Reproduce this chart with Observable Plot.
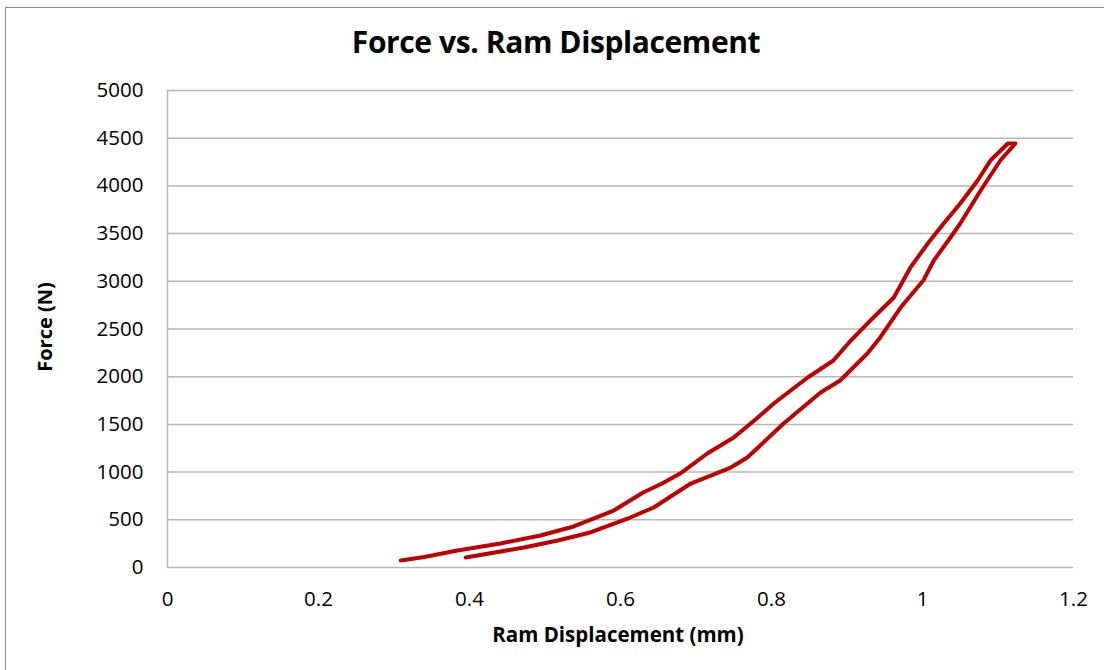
<!DOCTYPE html>
<html>
<head>
<meta charset="utf-8">
<script src="https://cdn.jsdelivr.net/npm/d3@7"></script>
<script src="https://cdn.jsdelivr.net/npm/@observablehq/plot@0.6"></script>
<style>
  html, body { margin: 0; padding: 0; background: #fff; }
  #wrap { position: relative; width: 1104px; height: 670px; overflow: hidden; font-family: "Open Sans", sans-serif; }
  #frame { position: absolute; left: 5px; top: 7px; width: 1200px; height: 800px; border-top: 1.5px solid #8c8c8c; border-left: 1.5px solid #8c8c8c; }
  #title { position: absolute; left: 0; width: 1112px; top: 21px; text-align: center; font-weight: bold; font-size: 30px; color: #000; letter-spacing: -0.4px; }
  #xlabel { position: absolute; left: 0; width: 1236px; top: 620px; text-align: center; font-weight: bold; font-size: 20.5px; color: #000; }
  #ylabel { position: absolute; left: 44px; top: 327px; transform: translate(-50%, -50%) rotate(-90deg); font-weight: bold; font-size: 20px; color: #000; white-space: nowrap; }
  #chart { position: absolute; left: 0; top: 0; }
</style>
</head>
<body>
<div id="wrap">
  <div id="frame"></div>
  <div id="chart"></div>
  <div id="title">Force vs. Ram Displacement</div>
  <div id="xlabel">Ram Displacement (mm)</div>
  <div id="ylabel">Force (N)</div>
</div>
<script>
// Loading branch (upper, noisy) — displacement (mm), force (N)
const loadX = [0.309, 0.340, 0.384, 0.441, 0.494, 0.538, 0.591, 0.630, 0.655, 0.679, 0.715, 0.750, 0.780, 0.803, 0.848, 0.882, 0.905, 0.931, 0.962, 0.984, 1.007, 1.028, 1.050, 1.073, 1.090, 1.113, 1.123];
const loadF = [73, 110, 178, 252, 335, 430, 597, 786, 880, 985, 1195, 1363, 1560, 1719, 1992, 2170, 2379, 2589, 2830, 3145, 3396, 3606, 3815, 4057, 4266, 4444, 4444];
// Unloading branch (lower, smoother)
const unloadX = [1.123, 1.103, 1.077, 1.050, 1.037, 1.015, 1.001, 0.971, 0.944, 0.927, 0.891, 0.865, 0.816, 0.768, 0.746, 0.693, 0.644, 0.613, 0.560, 0.517, 0.472, 0.395];
const unloadF = [4444, 4266, 3952, 3606, 3459, 3218, 3008, 2725, 2411, 2243, 1960, 1834, 1509, 1153, 1048, 880, 629, 524, 367, 283, 210, 105];
const xTicks = [0, 0.2, 0.4, 0.6, 0.8, 1, 1.2];
const yTicks = [0, 500, 1000, 1500, 2000, 2500, 3000, 3500, 4000, 4500, 5000];

const pts = [
  ...loadX.map((x, i) => ({x, y: loadF[i]})),
  ...unloadX.map((x, i) => ({x, y: unloadF[i]}))
];

const plot = Plot.plot({
  width: 1104,
  height: 670,
  marginLeft: 167,
  marginRight: 31,
  marginTop: 90,
  marginBottom: 103,
  style: { fontFamily: "Open Sans, sans-serif", fontSize: "20px", color: "#000", background: "transparent", overflow: "visible" },
  x: { domain: [0, 1.2], ticks: xTicks, tickFormat: d => String(d), label: null },
  y: { domain: [0, 5000], ticks: yTicks, tickFormat: d => String(d), label: null },
  marks: [
    Plot.ruleY(yTicks, { stroke: "#b7b7b7", strokeWidth: 1.5 }),
    Plot.ruleX([0], { stroke: "#b7b7b7", strokeWidth: 1.5 }),
    Plot.axisX({ ticks: xTicks, tickSize: 0, tickPadding: 24, tickFormat: d => String(d), label: null, fontSize: 20.5 }),
    Plot.axisY({ ticks: yTicks, tickSize: 0, tickPadding: 24, tickFormat: d => String(d), label: null, fontSize: 20.5 }),
    Plot.line(pts, { x: "x", y: "y", stroke: "#C00000", strokeWidth: 4, curve: "linear", strokeLinejoin: "round", strokeLinecap: "round" })
  ]
});
document.getElementById("chart").appendChild(plot);
</script>
</body>
</html>
